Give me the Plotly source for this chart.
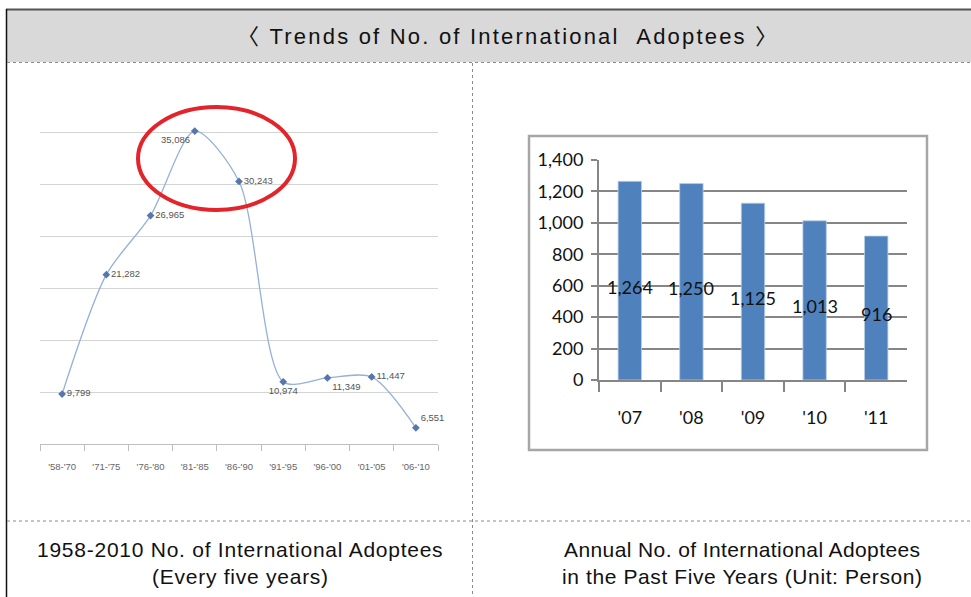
import plotly.graph_objects as go

# ---------------- data ----------------
period_labels = ["'58-'70", "'71-'75", "'76-'80", "'81-'85", "'86-'90",
                 "'91-'95", "'96-'00", "'01-'05", "'06-'10"]
period_values = [9799, 21282, 26965, 35086, 30243, 10974, 11349, 11447, 6551]
period_text = ["9,799", "21,282", "26,965", "35,086", "30,243",
               "10,974", "11,349", "11,447", "6,551"]

year_labels = ["'07", "'08", "'09", "'10", "'11"]
year_values = [1264, 1250, 1125, 1013, 916]

title_text = "〈 Trends of No. of International&nbsp;&nbsp;Adoptees 〉"
caption_left = ["1958-2010 No. of International Adoptees", "(Every five years)"]
caption_right = ["Annual No. of International Adoptees", "in the Past Five Years (Unit: Person)"]

W, H = 971, 597


def px(x):
    return x / W


def py(y):
    return 1 - y / H


def spaced(t, s):
    return f'<span style="letter-spacing:{s}px">{t}</span>'


fig = go.Figure()

# ---------------- left: line chart ----------------
label_pos = ["middle right", "middle right", "middle right", "bottom left", "middle right",
             "bottom center", "bottom right", "middle right", "top right"]
fig.add_trace(go.Scatter(
    x=period_labels, y=period_values, mode="lines+markers+text",
    line=dict(shape="spline", smoothing=0.8, color="#97b0d8", width=1.3),
    marker=dict(symbol="diamond", size=6, color="#5677ad"),
    text=period_text, textposition=label_pos,
    textfont=dict(family="Liberation Sans Narrow, Liberation Sans", size=9.5, color="#555555"),
    cliponaxis=False, xaxis="x", yaxis="y", showlegend=False, hoverinfo="skip",
))

# ---------------- right: bar chart ----------------
fig.add_trace(go.Bar(
    x=year_labels, y=year_values, width=0.38,
    marker=dict(color="#4f81bd", line=dict(color="#b9cde5", width=0.8)),
    xaxis="x2", yaxis="y2", showlegend=False, hoverinfo="skip",
))

# left y: 5000 at y=444px, 35000 at y=132px  ->  38000 at ~100.8px
fig.update_layout(
    template="none",
    width=W, height=H, margin=dict(l=0, r=0, t=0, b=0, pad=0),
    paper_bgcolor="white", plot_bgcolor="rgba(0,0,0,0)",
    xaxis=dict(domain=[px(40), px(438)], type="category", range=[-0.5, 8.5],
               showline=True, linecolor="#bfbfbf", linewidth=1,
               ticks="outside", tickson="boundaries", ticklen=6, tickcolor="#bfbfbf",
               ticklabelstandoff=14,
               showgrid=False, zeroline=False, automargin=False,
               tickfont=dict(family="Liberation Sans Narrow, Liberation Sans", size=9.5, color="#666666"),
               fixedrange=True, anchor="y"),
    yaxis=dict(domain=[py(444), py(100.8)], range=[5000, 38000], tick0=5000, dtick=5000,
               showgrid=True, gridcolor="#d4d4d4", gridwidth=1, automargin=False,
               showticklabels=False, zeroline=False, showline=False, ticks="",
               fixedrange=True, anchor="x"),
    xaxis2=dict(domain=[px(599), px(907)], type="category", range=[-0.5, 4.5],
                showline=True, linecolor="#868686", linewidth=2,
                ticks="outside", tickson="boundaries", ticklen=10, tickwidth=2, tickcolor="#868686",
                ticklabelstandoff=20,
                showgrid=False, zeroline=False, automargin=False,
                tickfont=dict(family="Lato", size=18, color="#111111"),
                fixedrange=True, anchor="y2"),
    yaxis2=dict(domain=[py(380), py(160)], range=[0, 1400], dtick=200,
                tickformat=",", showgrid=True, gridcolor="#868686", gridwidth=2,
                showline=True, linecolor="#868686", linewidth=2,
                ticks="outside", ticklen=6, tickwidth=2, tickcolor="#868686",
                ticklabelstandoff=4,
                zeroline=False, automargin=False, tickfont=dict(family="Lato", size=18, color="#111111"),
                fixedrange=True, anchor="x2"),
)

shapes = [
    # title band
    dict(type="rect", xref="paper", yref="paper", x0=px(7), x1=1.0, y0=py(62), y1=py(10),
         fillcolor="#d9d9d9", line=dict(width=0), layer="below"),
    dict(type="line", xref="paper", yref="paper", x0=px(6), x1=1.0, y0=py(9.5), y1=py(9.5),
         line=dict(color="#555555", width=2)),
    # left border
    dict(type="line", xref="paper", yref="paper", x0=px(6.5), x1=px(6.5), y0=py(9), y1=0,
         line=dict(color="#111111", width=1.5)),
    # dotted lines
    dict(type="line", xref="paper", yref="paper", x0=px(7), x1=1.0, y0=py(62.5), y1=py(62.5),
         line=dict(color="#8a8a8a", width=1, dash="dot")),
    dict(type="line", xref="paper", yref="paper", x0=px(7), x1=1.0, y0=py(521), y1=py(521),
         line=dict(color="#8a8a8a", width=1, dash="dot")),
    dict(type="line", xref="paper", yref="paper", x0=px(472.5), x1=px(472.5), y0=py(63), y1=0,
         line=dict(color="#8a8a8a", width=1, dash="dot")),
    # right chart frame
    dict(type="rect", xref="paper", yref="paper", x0=px(529), x1=px(927), y0=py(450), y1=py(136),
         line=dict(color="#a6a6a6", width=2.5), fillcolor="rgba(0,0,0,0)"),
    # red highlight ellipse around the peak
    dict(type="circle", xref="paper", yref="paper", x0=px(138), x1=px(295), y0=py(210), y1=py(107),
         line=dict(color="#e3242b", width=4), fillcolor="rgba(0,0,0,0)"),
]
fig.update_layout(shapes=shapes)

cap_font = dict(family="Liberation Sans, Arial", size=21, color="#111111")
annotations = [
    dict(text=spaced(title_text, 2.2), xref="paper", yref="paper", x=px(508), y=py(37),
         showarrow=False, xanchor="center", yanchor="middle",
         font=dict(family="Liberation Sans, Noto Sans CJK KR", size=22, color="#111111")),
    dict(text=spaced(caption_left[0], 0.75), xref="paper", yref="paper", x=px(240), y=py(549),
         showarrow=False, xanchor="center", yanchor="middle", font=cap_font),
    dict(text=spaced(caption_left[1], 0.75), xref="paper", yref="paper", x=px(240), y=py(576),
         showarrow=False, xanchor="center", yanchor="middle", font=cap_font),
    dict(text=spaced(caption_right[0], 0.4), xref="paper", yref="paper", x=px(742), y=py(549),
         showarrow=False, xanchor="center", yanchor="middle", font=cap_font),
    dict(text=spaced(caption_right[1], 0.6), xref="paper", yref="paper", x=px(742), y=py(576),
         showarrow=False, xanchor="center", yanchor="middle", font=cap_font),
]
# bar value labels, centred in each bar (Excel style), slightly below the bar middle
for lab, v in zip(year_labels, year_values):
    annotations.append(dict(
        text=f"{v:,}", xref="x2", yref="y2", x=lab, y=v / 2, yshift=-6,
        showarrow=False, xanchor="center", yanchor="middle",
        font=dict(family="Lato", size=18, color="#111111")))
fig.update_layout(annotations=annotations)

fig.write_html("out.html")
